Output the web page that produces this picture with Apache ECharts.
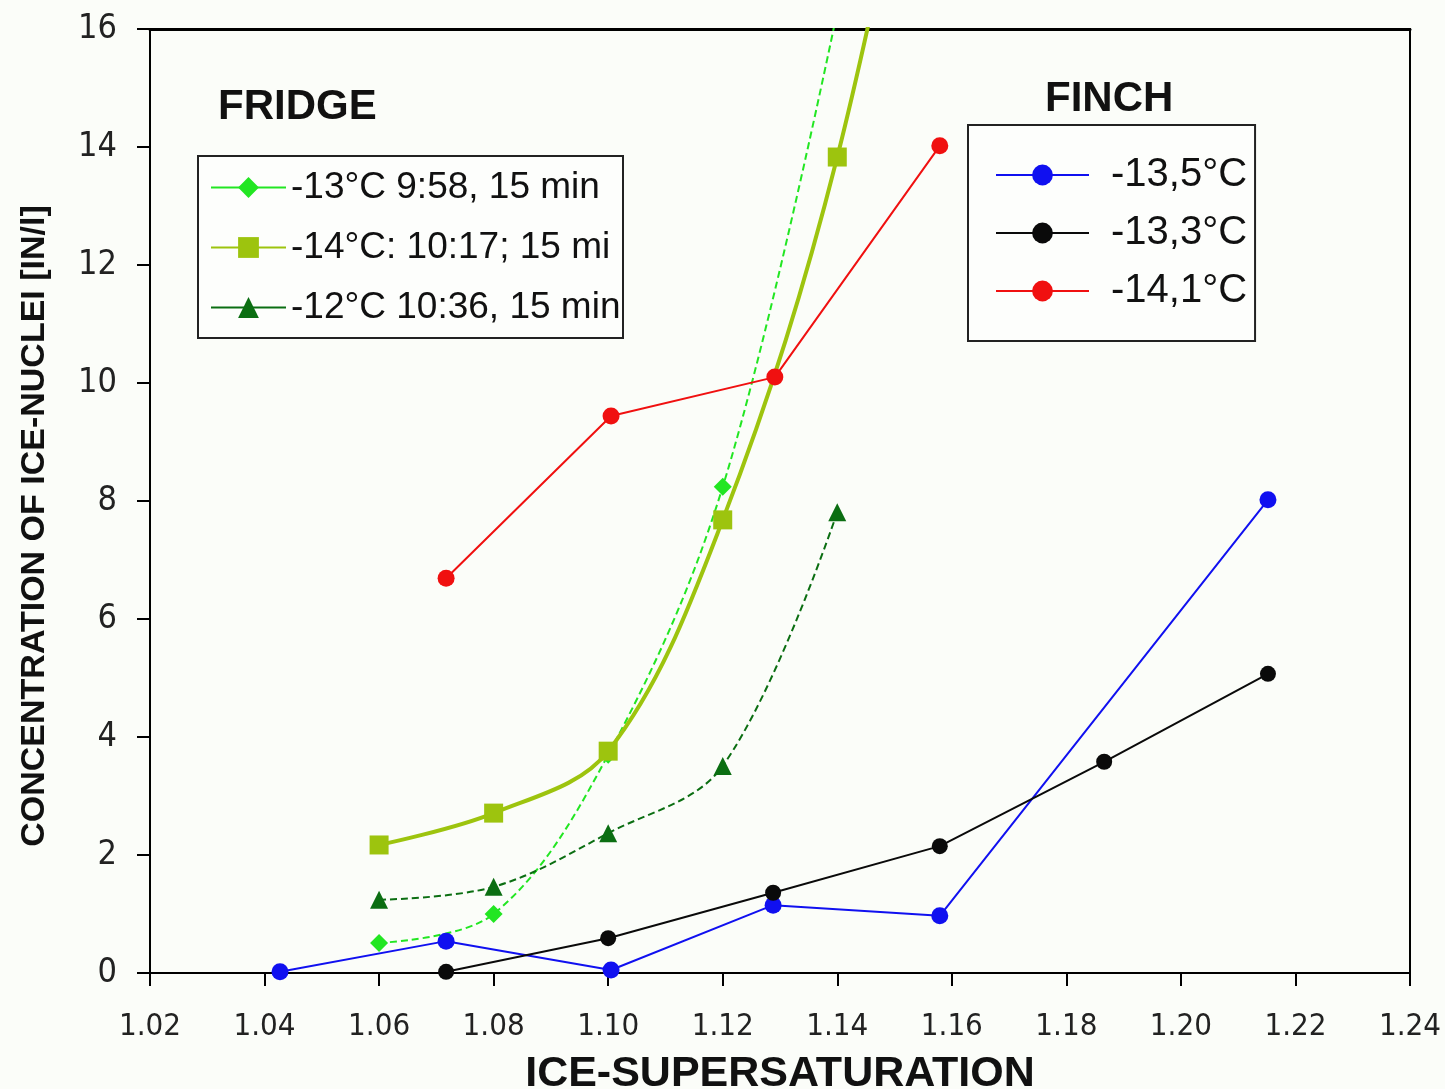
<!DOCTYPE html>
<html>
<head>
<meta charset="utf-8">
<script src="https://cdn.jsdelivr.net/npm/echarts@6/dist/echarts.min.js"></script>
<style>
  html, body { margin: 0; padding: 0; background: #fbfdf9; }
  #chart { width: 1445px; height: 1089px; }
</style>
</head>
<body>
<div id="chart"></div>
<script>
// Ice-nuclei concentration vs. ice supersaturation, FRIDGE and FINCH runs
const xTicks = [1.02, 1.24, 0.02];          // min, max, step of the x axis
const yTicks = [0, 16, 2];                  // min, max, step of the y axis

// FRIDGE (diffusion chamber) runs
const fridgeNames = ['-13°C 9:58, 15 min', '-14°C: 10:17; 15 min', '-12°C 10:36, 15 min'];
const fridge13 = [[1.06, 0.51], [1.08, 1.00], [1.10, 3.70], [1.12, 8.24], [1.14, 16.3]];
const fridge14 = [[1.06, 2.17], [1.08, 2.71], [1.10, 3.76], [1.12, 7.68], [1.14, 13.83], [1.16, 23.0]];
const fridge12 = [[1.06, 1.24], [1.08, 1.46], [1.10, 2.37], [1.12, 3.51], [1.14, 7.81]];

// FINCH (continuous flow chamber) runs
const finchNames = ['-13,5°C', '-13,3°C', '-14,1°C'];
const finch135 = [[1.0427, 0.02], [1.0717, 0.54], [1.1005, 0.05], [1.1288, 1.15], [1.1579, 0.97], [1.2152, 8.02]];
const finch133 = [[1.0717, 0.02], [1.1000, 0.59], [1.1288, 1.36], [1.1579, 2.15], [1.1866, 3.58], [1.2152, 5.07]];
const finch141 = [[1.0717, 6.69], [1.1005, 9.44], [1.1291, 10.10], [1.1579, 14.02]];

const sans = 'Liberation Sans, Arial, sans-serif';
const narrow = '"DejaVu Sans Condensed", "Liberation Sans Narrow", Liberation Sans, sans-serif';

const chart = echarts.init(document.getElementById('chart'), null, { renderer: 'canvas' });

function lineSeries(name, data, color, symbol, size, width, dashed, smooth) {
  return {
    type: 'line',
    name: name,
    data: data,
    smooth: smooth ? 0.35 : false,
    symbol: symbol,
    symbolSize: size,
    showAllSymbol: true,
    clip: true,
    lineStyle: { color: color, width: width, type: dashed ? [7, 4] : 'solid' },
    itemStyle: { color: color },
    emphasis: { disabled: true },
    z: 3
  };
}

chart.setOption({
  backgroundColor: '#fbfdf9',
  animation: false,
  grid: {
    left: 150, right: 35, top: 29, bottom: 116,
    outerBoundsMode: 'none',
    containLabel: false,
    show: true, borderColor: '#000', borderWidth: 2, backgroundColor: 'transparent'
  },
  xAxis: [
    {
      type: 'value',
      min: xTicks[0], max: xTicks[1], interval: xTicks[2],
      name: 'ICE-SUPERSATURATION',
      nameLocation: 'middle',
      nameGap: 80,
      nameTextStyle: { fontFamily: sans, fontWeight: 'bold', fontSize: 43, color: '#111' },
      axisLine: { show: true, lineStyle: { color: '#000', width: 2 } },
      axisTick: { show: true, inside: false, length: 13, lineStyle: { color: '#000', width: 2 } },
      axisLabel: {
        margin: 38, fontFamily: narrow, fontSize: 31, color: '#222',
        formatter: v => v.toFixed(2)
      },
      splitLine: { show: false }
    },
    {
      // heavier frame line along the top of the plot
      type: 'value', position: 'top',
      min: xTicks[0], max: xTicks[1],
      axisLine: { show: true, lineStyle: { color: '#000', width: 3 } },
      axisTick: { show: false }, axisLabel: { show: false }, splitLine: { show: false }
    }
  ],
  yAxis: {
    type: 'value',
    min: yTicks[0], max: yTicks[1], interval: yTicks[2],
    axisLine: { show: true, lineStyle: { color: '#000', width: 2 } },
    axisTick: { show: true, inside: false, length: 13, lineStyle: { color: '#000', width: 2 } },
    axisLabel: { margin: 33, fontFamily: narrow, fontSize: 34, color: '#222' },
    splitLine: { show: false }
  },
  legend: [
    {
      data: fridgeNames,
      orient: 'vertical',
      left: 198, top: 156,
      padding: [13, 0, 12, 12],
      itemWidth: 75, itemHeight: 26, itemGap: 23,
      backgroundColor: '#fdfefc',
      borderColor: '#222', borderWidth: 2,
      lineStyle: { type: 'solid' },
      selectedMode: false,
      // the box is narrower than the longest entry, which runs into its edge
      formatter: name => name.slice(0, 19),
      textStyle: {
        fontFamily: sans, fontSize: 37, color: '#111', lineHeight: 37,
        width: 332, overflow: 'truncate', ellipsis: ''
      }
    },
    {
      data: finchNames,
      orient: 'vertical',
      left: 968, top: 125,
      padding: [30, 8, 30, 27],
      itemWidth: 93, itemHeight: 26, itemGap: 18,
      backgroundColor: '#fdfefc',
      borderColor: '#222', borderWidth: 2,
      selectedMode: false,
      textStyle: { fontFamily: sans, fontSize: 40, color: '#111', lineHeight: 38, padding: [0, 0, 0, 17] }
    }
  ],
  graphic: [
    { type: 'text', left: 218, top: 86, style: { text: 'FRIDGE', font: 'bold 42px ' + sans, fill: '#111' } },
    { type: 'text', left: 1045, top: 78, style: { text: 'FINCH', font: 'bold 42px ' + sans, fill: '#111' } },
    {
      type: 'text', x: 35, y: 526, rotation: Math.PI / 2,
      style: {
        text: 'CONCENTRATION OF ICE-NUCLEI [IN/l]', font: 'bold 34px ' + sans, fill: '#111',
        align: 'center', verticalAlign: 'middle'
      }
    }
  ],
  series: [
    lineSeries(fridgeNames[0], fridge13, '#22e622', 'diamond', 18, 2, true, true),
    lineSeries(fridgeNames[1], fridge14, '#9dc40e', 'rect', 19, 4, false, true),
    lineSeries(fridgeNames[2], fridge12, '#0b6e12', 'triangle', 18, 2, true, true),
    lineSeries(finchNames[0], finch135, '#1010f0', 'circle', 17, 2, false, false),
    lineSeries(finchNames[1], finch133, '#0a0a0a', 'circle', 16, 2, false, false),
    lineSeries(finchNames[2], finch141, '#f01010', 'circle', 17, 2, false, false)
  ]
});
</script>
</body>
</html>
